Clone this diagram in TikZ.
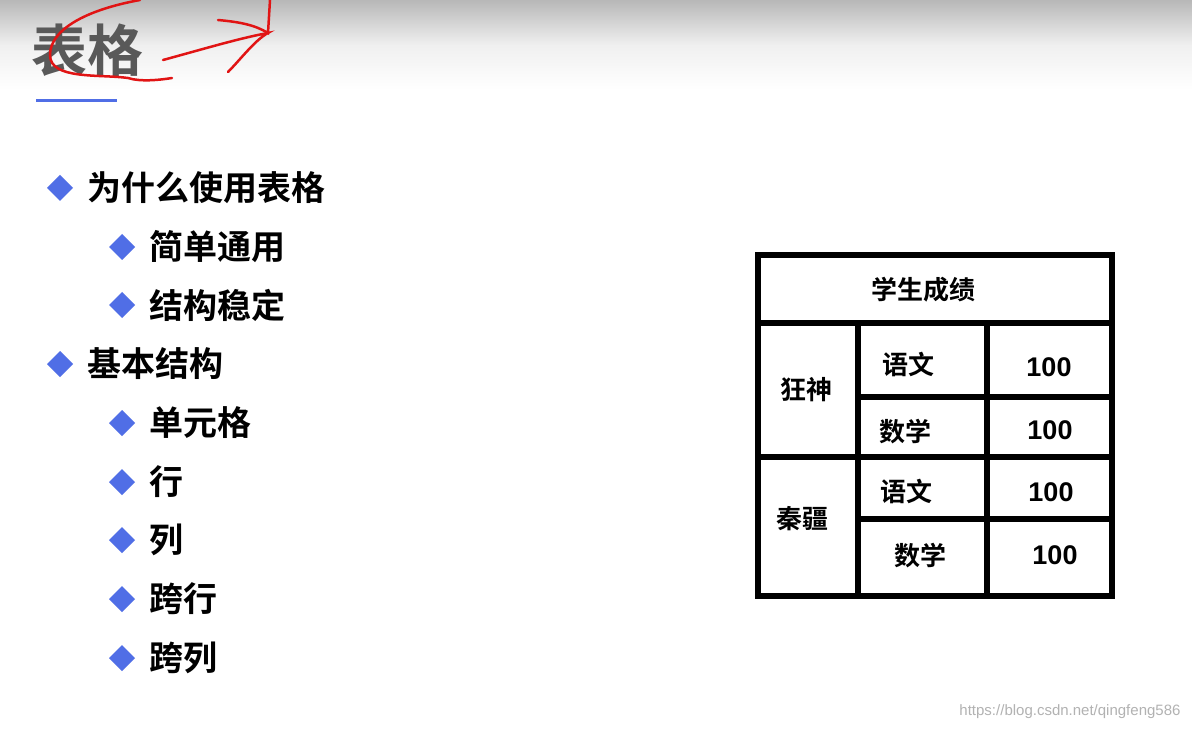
\documentclass[tikz,border=0pt]{standalone}
\usepackage{fontspec}
\setsansfont{Liberation Sans}
\newfontfamily\cjk{Noto Sans CJK SC}[BoldFont={Noto Sans CJK SC Bold}]
\definecolor{bul}{RGB}{80,110,230}
\definecolor{scrib}{RGB}{225,20,20}
\begin{document}
\begin{tikzpicture}[x=1pt,y=-1pt,
  item/.style={anchor=west,font=\cjk\bfseries\fontsize{34}{34}\selectfont},
  cell/.style={font=\cjk\bfseries\fontsize{26}{26}\selectfont},
  num/.style={font=\sffamily\bfseries\fontsize{27}{27}\selectfont},
  tl/.style={line width=6pt},
  scr/.style={scrib,line width=2.5pt,line cap=round}]
\fill[white] (0,0) rectangle (1192,730);
\shade[top color=black!28,bottom color=white,middle color=black!6] (0,0) rectangle (1192,90);
\useasboundingbox (0,0) rectangle (1192,730);
\node[anchor=west,text=black!65,font=\cjk\bfseries\fontsize{56}{56}\selectfont] (title) at (28,50) {表格};
\draw[line width=3pt,bul] (36,101) -- (117,101);
% red scribbles
\draw[scr] (140,0) .. controls (85,10) and (50,30) .. (50,55) .. controls (50,80) and (100,74) .. (128,78) .. controls (140,82) and (160,80) .. (172,78);
\draw[scr] (163,60) .. controls (200,50) and (240,38) .. (268,33) .. controls (255,40) and (240,60) .. (228,72);
\draw[scr] (218,20) .. controls (240,22) and (255,25) .. (268,33) -- (270,0);
% bullets
\foreach \y/\t in {188/为什么使用表格,364/基本结构}{
  \fill[bul] (60,\y-13) -- (73,\y) -- (60,\y+13) -- (47,\y) -- cycle;
  \node[item] at (84,\y) {\t};}
\foreach \y/\t in {247/简单通用,305/结构稳定,423/单元格,482/行,540/列,599/跨行,658/跨列}{
  \fill[bul] (122,\y-13) -- (135,\y) -- (122,\y+13) -- (109,\y) -- cycle;
  \node[item] at (146,\y) {\t};}
% table
\draw[tl] (758,255) rectangle (1112,596);
\draw[tl] (758,323) -- (1112,323);
\draw[tl] (758,457) -- (1112,457);
\draw[tl] (858,323) -- (858,596);
\draw[tl] (987,323) -- (987,596);
\draw[tl] (858,397) -- (1112,397);
\draw[tl] (858,519) -- (1112,519);
\node[cell] (h) at (923,290) {学生成绩};
\node[cell] (a) at (806,390) {狂神};
\node[cell] (b) at (802,519) {秦疆};
\node[cell] (c1) at (908,364) {语文};
\node[cell] (c2) at (905,432) {数学};
\node[cell] (c3) at (906,491) {语文};
\node[cell] (c4) at (920,556) {数学};
\node[num] (n1) at (1049,367) {100};
\node[num] (n2) at (1050,430) {100};
\node[num] (n3) at (1051,492) {100};
\node[num] (n4) at (1055,555) {100};
\node[anchor=east,text=black!30,font=\sffamily\fontsize{15}{15}\selectfont] (wm) at (1184,712) {https://blog.csdn.net/qingfeng586};
\end{tikzpicture}
\end{document}
